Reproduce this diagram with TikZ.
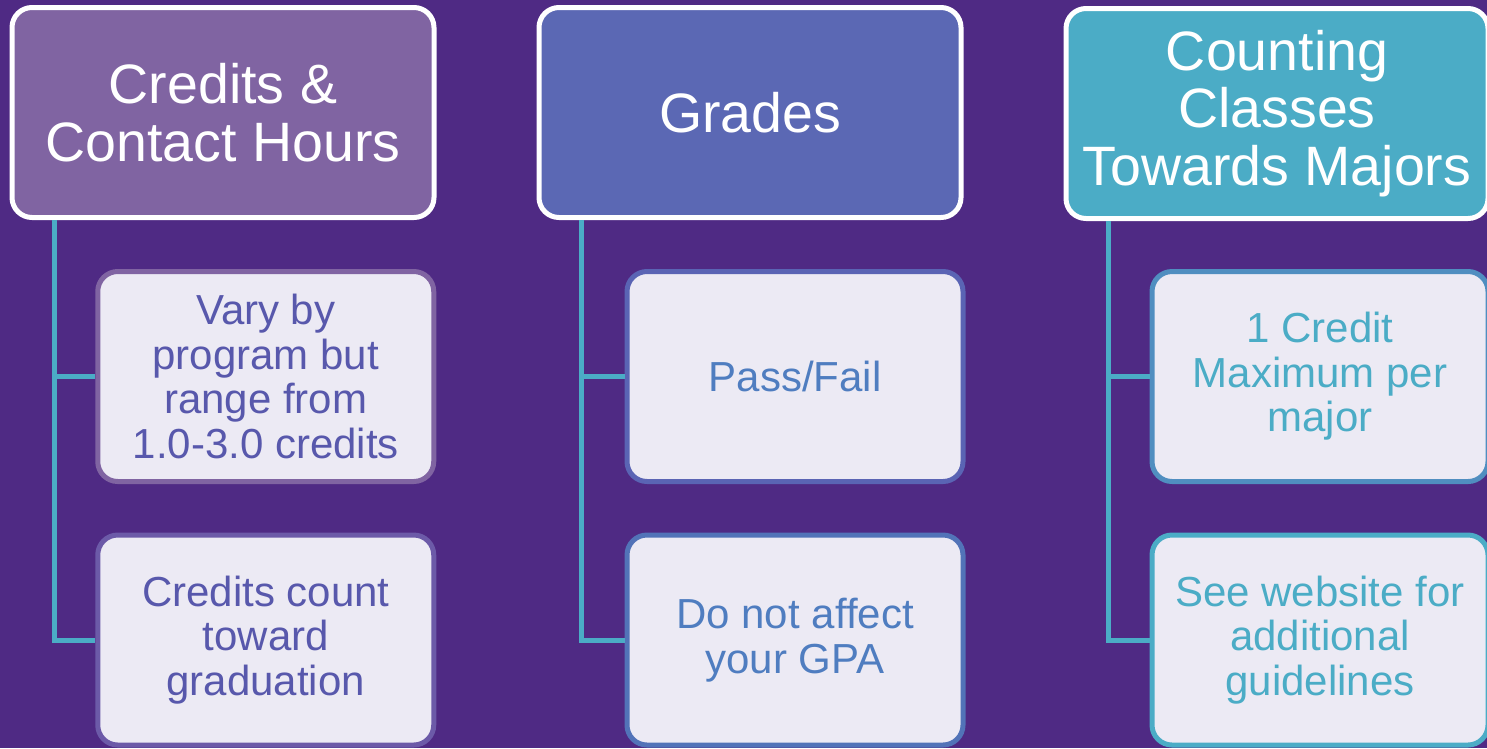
\documentclass[tikz,border=0pt]{standalone}
\usepackage{fontspec}
\setmainfont{Liberation Sans}
\definecolor{bgc}{RGB}{79,42,132}
\definecolor{topA}{RGB}{128,100,162}
\definecolor{topB}{RGB}{91,104,180}
\definecolor{topC}{RGB}{75,172,198}
\definecolor{subfill}{RGB}{236,234,244}
\definecolor{bdA1}{RGB}{128,100,162}
\definecolor{bdA2}{RGB}{108,90,168}
\definecolor{bdB1}{RGB}{90,100,180}
\definecolor{bdB2}{RGB}{82,115,184}
\definecolor{bdC1}{RGB}{80,142,192}
\definecolor{bdC2}{RGB}{75,172,198}
\definecolor{txA}{RGB}{88,88,172}
\definecolor{txB}{RGB}{79,125,192}
\definecolor{txC}{RGB}{75,172,198}
\definecolor{conc}{RGB}{75,172,198}
\tikzset{
  topbox/.style={draw=white, line width=5pt, rounded corners=20pt, minimum width=422pt, minimum height=210pt, inner sep=0pt, text=white, align=center, font=\fontsize{55.5}{57.5}\selectfont},
  subbox/.style={line width=5pt, fill=subfill, rounded corners=20pt, minimum width=336pt, minimum height=210pt, inner sep=0pt, align=center, font=\fontsize{42}{44.5}\selectfont},
  conn/.style={draw=conc, line width=5pt}
}
\begin{document}
\begin{tikzpicture}[x=1pt,y=-1pt]
\useasboundingbox (0,0) rectangle (1487,748);
\fill[bgc] (0,0) rectangle (1487,748);
% top boxes
\node[topbox, fill=topA] (t1) at (223,112.5) {Credits \&\\Contact Hours};
\node[topbox, fill=topB] (t2) at (750,112.5) {Grades};
\node[topbox, fill=topC] (t3) at (1277,113.5) {Counting\\Classes\\Towards Majors};
% sub boxes
\node[subbox, draw=bdA1, text=txA] (s11) at (265.75,376.5) {Vary by\\program but\\range from\\1.0-3.0 credits};
\node[subbox, draw=bdA2, text=txA] (s12) at (265.75,640) {Credits count\\toward\\graduation};
\node[subbox, draw=bdB1, text=txB] (s21) at (795,376.5) {Pass/Fail};
\node[subbox, draw=bdB2, text=txB] (s22) at (795,640) {Do not affect\\your GPA};
\node[subbox, draw=bdC1, text=txC] (s31) at (1320,376.5) {1 Credit\\Maximum per\\major};
\node[subbox, draw=bdC2, text=txC] (s32) at (1320,640) {See website for\\additional\\guidelines};
% connectors
\coordinate (c1) at ([xshift=45pt]t1.south west);
\coordinate (c2) at ([xshift=45pt]t2.south west);
\coordinate (c3) at ([xshift=44.5pt]t3.south west);
\draw[conn] (c1) |- (s12.west);
\draw[conn] (c1) |- (s11.west);
\draw[conn] (c2) |- (s22.west);
\draw[conn] (c2) |- (s21.west);
\draw[conn] (c3) |- (s32.west);
\draw[conn] (c3) |- (s31.west);
\end{tikzpicture}
\end{document}
